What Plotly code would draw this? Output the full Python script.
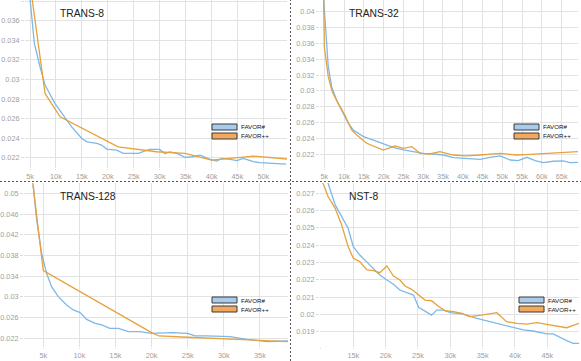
import plotly.graph_objects as go
from plotly.subplots import make_subplots

W, H = 581, 361

# TRANS-8
t8_blue_x = [4600, 5000, 5840, 6930, 7900, 9800, 12000, 13000, 15000, 16000, 17900, 18800, 19800, 21700, 23000, 25900,
             27200, 28100, 30000, 31000, 32000, 33300, 34900, 36200, 37800, 39700, 41000, 42000, 43600, 44900, 46100,
             48100, 49300, 51300, 54400]
t8_blue_y = [0.0405, 0.0381, 0.03368, 0.0313, 0.02942, 0.02755, 0.0260, 0.02517, 0.02397, 0.02363, 0.02346, 0.0233,
             0.02288, 0.02278, 0.02244, 0.02244, 0.0227, 0.02285, 0.02285, 0.02244, 0.0226, 0.02244, 0.02203, 0.0221,
             0.02227, 0.02183, 0.02166, 0.02193, 0.02183, 0.0217, 0.02193, 0.0216, 0.02149, 0.02142, 0.02135]
t8_orange_x = [5000, 7900, 10800, 22000, 29400, 34900, 40000, 43000, 48100, 54600]
t8_orange_y = [0.0398, 0.02857, 0.02619, 0.02312, 0.02261, 0.02244, 0.02176, 0.02193, 0.02217, 0.02187]

# TRANS-32
t32_blue_x = [4700, 5200, 6000, 6850, 8100, 9800, 11100, 12300, 14900, 17400, 19900, 22400, 25000, 27500, 30000, 32600,
              35100, 37600, 40100, 42700, 44400, 46900, 49400, 52000, 54000, 56200, 58300, 60400, 62900, 65400, 67100,
              69100]
t32_blue_y = [0.0425, 0.03895, 0.03306, 0.03054, 0.02886, 0.02717, 0.02591, 0.02507, 0.02423, 0.0238, 0.0233, 0.02288,
              0.02255, 0.02233, 0.02212, 0.02204, 0.02191, 0.02158, 0.02149, 0.02141, 0.02137, 0.02162, 0.02179,
              0.02128, 0.0212, 0.02162, 0.0212, 0.02095, 0.02112, 0.02116, 0.02095, 0.02099]
t32_orange_x = [4800, 5000, 6000, 7000, 8500, 10200, 11900, 13200, 15700, 19900, 22900, 25000, 27100, 29200, 31700,
                34200, 37600, 40900, 44400, 49400, 52000, 53600, 57000, 62000, 69100]
t32_orange_y = [0.0425, 0.03558, 0.0318, 0.0299, 0.02843, 0.02696, 0.02507, 0.02444, 0.02339, 0.02254, 0.02305,
                0.02276, 0.02297, 0.02212, 0.02204, 0.02233, 0.02191, 0.02179, 0.02191, 0.02212, 0.022, 0.02191, 0.022,
                0.02212, 0.02233]

# TRANS-128
t128_blue_x = [3600, 4080, 4770, 5460, 6150, 7080, 8230, 9160, 10100, 11000, 12200, 13100, 14200, 15400, 16800, 18400,
               20000, 23000, 25000, 26000, 27600, 30900, 33200, 35900, 38900]
t128_blue_y = [0.0516, 0.04485, 0.03841, 0.03455, 0.03198, 0.03004, 0.02843, 0.02747, 0.02695, 0.02566, 0.0249,
               0.02457, 0.02393, 0.02393, 0.02329, 0.02329, 0.02296, 0.02309, 0.02296, 0.02245, 0.02245, 0.02232,
               0.0218, 0.02135, 0.02148]
t128_orange_x = [3500, 5000, 20000, 21000, 25000, 38900]
t128_orange_y = [0.0525, 0.03506, 0.02309, 0.02245, 0.0222, 0.02136]

# NST-8
n8_blue_x = [10700, 11100, 12200, 13200, 14200, 15000, 16000, 17300, 19100, 20200, 21200, 22200, 23200, 24300, 25100,
             26100, 27100, 27900, 29000, 30000, 32000, 34100, 36100, 38200, 40300, 41300, 42800, 44900, 45900, 46700,
             48000, 49000, 49900]
n8_blue_y = [0.0282, 0.02758, 0.02633, 0.02565, 0.02498, 0.02392, 0.02343, 0.02295, 0.02228, 0.02199, 0.02174, 0.02141,
             0.02126, 0.02112, 0.02041, 0.02016, 0.01996, 0.02025, 0.02025, 0.0201, 0.02002, 0.01977, 0.01958, 0.01939,
             0.01919, 0.0191, 0.01904, 0.01887, 0.01887, 0.01871, 0.01848, 0.01833, 0.01833]
n8_orange_x = [10000, 10400, 11100, 12200, 13200, 14200, 15000, 16000, 17100, 18100, 19100, 20200, 21200, 22200, 23000,
               24000, 25100, 26100, 27100, 28100, 29200, 30500, 31800, 33000, 34800, 37200, 38700, 40300, 41800, 43400,
               44900, 46400, 48000, 49900]
n8_orange_y = [0.0279, 0.02754, 0.02681, 0.02613, 0.02517, 0.02392, 0.02324, 0.02305, 0.02257, 0.02253, 0.02241,
               0.0228, 0.02222, 0.02199, 0.02164, 0.02145, 0.02112, 0.02083, 0.02079, 0.02048, 0.02021, 0.02016,
               0.02006, 0.01987, 0.01996, 0.0201, 0.01958, 0.01948, 0.01944, 0.01952, 0.01942, 0.01933, 0.01923,
               0.01948]

names = ["TRANS-8", "TRANS-32", "TRANS-128", "NST-8"]
series_names = ["FAVOR#", "FAVOR++"]

BLUE = "#7db8e8"
ORANGE = "#e6a23c"
BLUE_FILL = "#a9cbec"
ORANGE_FILL = "#f2a95e"
FONT = "Liberation Sans, Arial, sans-serif"

fig = make_subplots(rows=2, cols=2)

panels = [
    (1, 1, t8_blue_x, t8_blue_y, t8_orange_x, t8_orange_y),
    (1, 2, t32_blue_x, t32_blue_y, t32_orange_x, t32_orange_y),
    (2, 1, t128_blue_x, t128_blue_y, t128_orange_x, t128_orange_y),
    (2, 2, n8_blue_x, n8_blue_y, n8_orange_x, n8_orange_y),
]
for r, c, bx, by, ox, oy in panels:
    fig.add_trace(go.Scatter(x=bx, y=by, mode="lines", name=series_names[0],
                             line=dict(color=BLUE, width=1.3)), row=r, col=c)
    fig.add_trace(go.Scatter(x=ox, y=oy, mode="lines", name=series_names[1],
                             line=dict(color=ORANGE, width=1.3)), row=r, col=c)


def px_x(x):
    return x / W


def px_y(y):
    return 1 - y / H


# plot areas in pixels: left, right, top, bottom
boxes = [(25, 287, 0, 168), (320, 578, 0, 168), (24, 288, 183, 347), (320, 579, 183, 347)]
xranges = [[4036, 54560], [3910, 69130], [2330, 38890], [9850, 49900]]
yranges = [[0.02095, 0.03812], [0.02027, 0.04148], [0.02032, 0.05199], [0.018116, 0.027595]]
ydticks = [0.002, 0.002, 0.004, 0.001]
ytick0 = [0, 0, 0.002, 0]

axis_common = dict(showgrid=True, gridcolor="#e2e2e2", gridwidth=1, zeroline=False, showline=False,
                   ticks="outside", tickcolor="#dddddd", automargin=False,
                   tickfont=dict(family=FONT, size=7.3, color="#a0a0a0"))

for i, (l, rgt, t, b) in enumerate(boxes):
    sfx = "" if i == 0 else str(i + 1)
    xa = dict(axis_common, domain=[px_x(l), px_x(rgt)], range=xranges[i], tickformat="~s", dtick=5000, tick0=0,
              ticklen=1)
    if i == 3:
        xa.update(tickmode="array", tickvals=[10000, 15000, 20000, 25000, 30000, 35000, 40000, 45000],
                  ticktext=["", "15k", "20k", "25k", "30k", "35k", "40k", "45k"])
    ya = dict(axis_common, domain=[px_y(b), px_y(t)], range=yranges[i], tickformat="~g",
              dtick=ydticks[i], tick0=ytick0[i], ticklen=3)
    fig.update_layout(**{"xaxis" + sfx: xa, "yaxis" + sfx: ya})

# panel titles
title_pos = [(58, 14), (347, 14), (58, 196), (347, 196)]
for name, (tx, ty) in zip(names, title_pos):
    fig.add_annotation(text=name, xref="paper", yref="paper", x=px_x(tx), y=px_y(ty),
                       xanchor="left", yanchor="middle", showarrow=False,
                       font=dict(family=FONT, size=10.3, color="#222222"))

# hand-drawn legends (wide swatches)
legend_pos = [(212, 124), (514, 124), (212, 297), (519, 297)]
shapes = []
for lx, ly in legend_pos:
    for k, fill in enumerate([BLUE_FILL, ORANGE_FILL]):
        y0 = ly + k * 9
        shapes.append(dict(type="rect", xref="paper", yref="paper",
                           x0=px_x(lx), x1=px_x(lx + 25), y0=px_y(y0 + 6), y1=px_y(y0),
                           fillcolor=fill, line=dict(color="#3a3a3a", width=1)))
        fig.add_annotation(text=series_names[k], xref="paper", yref="paper",
                           x=px_x(lx + 27), y=px_y(y0 + 3), xanchor="left", yanchor="middle",
                           showarrow=False, font=dict(family=FONT, size=6.2, color="#111111"))

# dashed separators between panels
shapes.append(dict(type="line", xref="paper", yref="paper", x0=px_x(290.5), x1=px_x(290.5), y0=0, y1=1,
                   line=dict(color="#555555", width=1, dash="2px,2px")))
shapes.append(dict(type="line", xref="paper", yref="paper", x0=0, x1=1, y0=px_y(181.5), y1=px_y(181.5),
                   line=dict(color="#555555", width=1, dash="2px,2px")))

fig.update_layout(
    shapes=shapes,
    width=W, height=H,
    margin=dict(l=0, r=0, t=0, b=0, autoexpand=False),
    paper_bgcolor="white", plot_bgcolor="white",
    showlegend=False,
)

# the page body has a default 8px margin; drop it so the figure fills the window
fig.write_html("out.html", config={"displayModeBar": False},
               post_script="document.body.style.margin='0';")
